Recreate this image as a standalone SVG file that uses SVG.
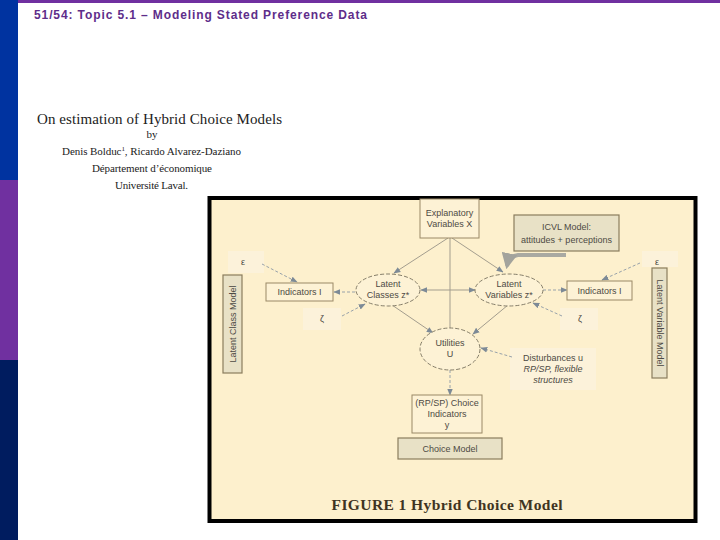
<svg xmlns="http://www.w3.org/2000/svg" width="720" height="540" viewBox="0 0 720 540">
<style>
.t{font-family:"Liberation Sans",Arial,sans-serif;font-size:9px;fill:#4d4a44;text-anchor:middle}
.ser{font-family:"Liberation Serif","Times New Roman",serif;fill:#222;text-anchor:middle}
.box{fill:#fdf2d5;stroke:#9a8866;stroke-width:1}
.mbox{fill:#e8e1c6;stroke:#8a7d5e;stroke-width:1.2}
.ell{fill:#fdf2d5;stroke:#77705e;stroke-width:0.9;stroke-dasharray:4 2}
.sol{stroke:#a39d8e;stroke-width:1;fill:none}
.dsh{stroke:#98a2aa;stroke-width:1;fill:none;stroke-dasharray:3 2}
.soft{fill:#fcf2da}
</style>
<defs>
<marker id="ah" viewBox="0 0 10 10" refX="9" refY="5" markerWidth="7" markerHeight="7" orient="auto" markerUnits="userSpaceOnUse">
<path d="M0,1 L10,5 L0,9 z" fill="#7d8a96"/>
</marker>
<marker id="ahb" viewBox="0 0 10 10" refX="8" refY="5" markerWidth="4" markerHeight="4" orient="auto">
<path d="M0,0 L10,5 L0,10 z" fill="#a3a39c"/>
</marker>
</defs>
<rect width="720" height="540" fill="#ffffff"/>
<g id="sidebar">
<rect x="0" y="0" width="18" height="180" fill="#0033a0"/>
<rect x="0" y="180" width="18" height="180" fill="#7030a0"/>
<rect x="0" y="360" width="18" height="180" fill="#001c5f"/>
<rect x="18" y="0" width="702" height="3" fill="#7030a0"/>
</g>
<text x="34" y="19" font-family="Liberation Sans,Arial,sans-serif" font-weight="bold" font-size="12" fill="#5e2d8a" textLength="333" lengthAdjust="spacing">51/54: Topic 5.1 – Modeling Stated Preference Data</text>
<g id="paper-header">
<text class="ser" x="159.5" y="124" font-size="15" textLength="245">On estimation of Hybrid Choice Models</text>
<text class="ser" x="152" y="138" font-size="11">by</text>
<text class="ser" x="151.5" y="155" font-size="11" textLength="179">Denis Bolduc<tspan font-size="7" dy="-4">1</tspan><tspan dy="4">, Ricardo Alvarez-Daziano</tspan></text>
<text class="ser" x="152" y="172" font-size="11" textLength="120">Département d’économique</text>
<text class="ser" x="151.5" y="189" font-size="11" textLength="73">Université Laval.</text>
</g>
<g id="figure">
<rect x="211" y="520" width="486" height="3" fill="#c8c8c8"/>
<rect x="209.5" y="198" width="486" height="323" fill="#fdf0cd" stroke="#000" stroke-width="4"/>
<rect class="soft" x="228" y="251" width="36" height="22"/>
<rect class="soft" x="642" y="251" width="36" height="16"/>
<rect class="soft" x="303" y="308" width="38" height="22"/>
<rect class="soft" x="560" y="308" width="38" height="22"/>
<rect class="soft" x="510" y="348" width="86" height="42"/>
</g>
<g id="connectors">
<line class="sol" x1="450" y1="238" x2="450" y2="328"/>
<line class="sol" x1="448" y1="238" x2="394" y2="273" marker-end="url(#ah)"/>
<line class="sol" x1="452" y1="238" x2="503" y2="272" marker-end="url(#ah)"/>
<line class="sol" x1="450" y1="290" x2="421" y2="290" marker-end="url(#ah)"/>
<line class="sol" x1="450" y1="290" x2="475" y2="290" marker-end="url(#ah)"/>
<line class="dsh" x1="355" y1="292" x2="334" y2="292" marker-end="url(#ah)"/>
<line class="dsh" x1="543" y1="290" x2="567" y2="290" marker-end="url(#ah)"/>
<line class="dsh" x1="262" y1="264" x2="297" y2="282" marker-end="url(#ah)"/>
<line class="dsh" x1="640" y1="263" x2="602" y2="280" marker-end="url(#ah)"/>
<line class="dsh" x1="342" y1="316" x2="365" y2="304" marker-end="url(#ah)"/>
<line class="dsh" x1="562" y1="316" x2="533" y2="303" marker-end="url(#ah)"/>
<line class="sol" x1="392" y1="305" x2="433" y2="333" marker-end="url(#ah)"/>
<line class="sol" x1="508" y1="305" x2="473" y2="334" marker-end="url(#ah)"/>
<line class="dsh" x1="512" y1="357" x2="481" y2="348" marker-end="url(#ah)"/>
<line class="dsh" x1="450" y1="370" x2="450" y2="395" marker-end="url(#ah)"/>
<path d="M566,255 L518,255 Q509,256 507,266" stroke="#a9a9a2" stroke-width="4" fill="none" marker-end="url(#ahb)"/>
</g>
<g id="explanatory">
<rect class="box" x="420" y="199" width="59" height="39"/>
<text class="t" x="449.5" y="216">Explanatory</text>
<text class="t" x="449.5" y="227">Variables X</text>
</g>
<g id="icvl">
<rect class="mbox" x="514" y="215" width="105" height="36"/>
<text class="t" x="566.5" y="230">ICVL Model:</text>
<text class="t" x="566.5" y="243">attitudes + perceptions</text>
</g>
<g id="latent-classes">
<ellipse class="ell" cx="388" cy="290" rx="32" ry="16"/>
<text class="t" x="388" y="287">Latent</text>
<text class="t" x="388" y="298">Classes z*</text>
</g>
<g id="latent-variables">
<ellipse class="ell" cx="509" cy="290" rx="34" ry="16"/>
<text class="t" x="509" y="287">Latent</text>
<text class="t" x="509" y="298">Variables z*</text>
</g>
<g id="indicators-left">
<rect class="box" x="266" y="283" width="67" height="18"/>
<text class="t" x="299.5" y="295">Indicators I</text>
</g>
<g id="indicators-right">
<rect class="box" x="567" y="281" width="65" height="19"/>
<text class="t" x="599.5" y="294">Indicators I</text>
</g>
<g id="eps-left"><text class="t" x="243" y="265" font-size="7">ε</text></g>
<g id="eps-right"><text class="t" x="657" y="265" font-size="7">ε</text></g>
<g id="zeta-left"><text class="t" x="322" y="322" font-size="9">ζ</text></g>
<g id="zeta-right"><text class="t" x="580" y="322" font-size="9">ζ</text></g>
<g id="utilities">
<ellipse class="ell" cx="450" cy="349" rx="30" ry="21"/>
<text class="t" x="450" y="346">Utilities</text>
<text class="t" x="450" y="357">U</text>
</g>
<g id="disturbances">
<text class="t" x="553" y="361">Disturbances u</text>
<text class="t" x="553" y="372" font-style="italic">RP/SP, flexible</text>
<text class="t" x="553" y="383" font-style="italic">structures</text>
</g>
<g id="choice-indicators">
<rect class="box" x="412" y="395" width="70" height="38"/>
<text class="t" x="447" y="406">(RP/SP) Choice</text>
<text class="t" x="447" y="417">Indicators</text>
<text class="t" x="447" y="428">y</text>
</g>
<g id="choice-model">
<rect class="mbox" x="398" y="438" width="104" height="21"/>
<text class="t" x="450" y="451.5">Choice Model</text>
</g>
<g id="latent-class-model">
<rect class="mbox" x="223" y="275" width="19" height="98"/>
<text class="t" transform="translate(235.5,324) rotate(-90)" font-size="9.5">Latent Class Model</text>
</g>
<g id="latent-variable-model">
<rect class="mbox" x="652" y="268" width="15" height="110"/>
<text class="t" transform="translate(656.5,323) rotate(90)" font-size="9.5">Latent Variable Model</text>
</g>
<text x="447" y="510" font-family="Liberation Serif,Times New Roman,serif" font-size="15.5" font-weight="bold" fill="#3f3422" text-anchor="middle" textLength="231">FIGURE 1 Hybrid Choice Model</text>
</svg>
